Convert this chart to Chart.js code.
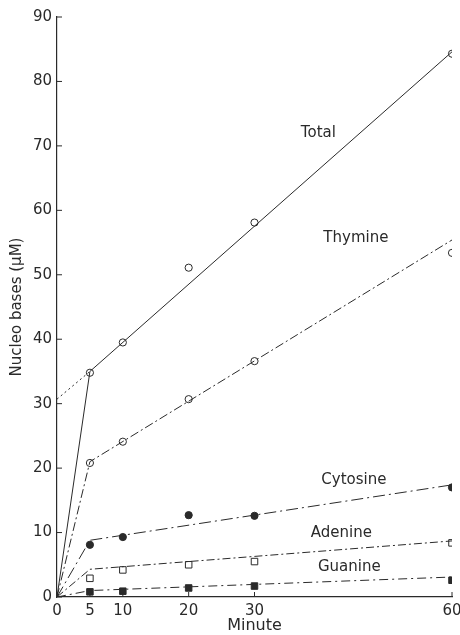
<!DOCTYPE html>
<html>
<head>
<meta charset="utf-8">
<script src="https://cdn.jsdelivr.net/npm/chart.js@4.4.1/dist/chart.umd.min.js"></script>
<style>
  html, body { margin: 0; padding: 0; background: #fff; }
  #wrap { width: 460px; height: 635px; }
</style>
</head>
<body>
<div id="wrap"><canvas id="chart"></canvas></div>
<script>
// measured points (minutes, µM)
const minutes = [5, 10, 20, 30, 60];
const total    = [34.8, 39.5, 51.1, 58.1, 84.3];
const thymine  = [20.8, 24.1, 30.7, 36.6, 53.4];
const cytosine = [8.1, 9.3, 12.7, 12.6, 17.0];
const adenine  = [2.9, 4.2, 5.0, 5.5, 8.4];
const guanine  = [0.8, 0.9, 1.4, 1.7, 2.6];

// drawn fit lines: origin -> knee at 5 min -> 60 min
const fitX = [0, 5, 60];
const totalFit    = [0, 35, 84.6];
const thymineFit  = [0, 21, 55.4];
const cytosineFit = [0, 8.8, 17.4];
const adenineFit  = [0, 4.3, 8.7];
const guanineFit  = [0, 1.0, 3.1];

// dotted extrapolation of total back to 0 min
const extrapX = [0, 5];
const totalExtrap = [30.7, 35];

const xTicks = [0, 5, 10, 20, 30, 60];
const yTicks = [0, 10, 20, 30, 40, 50, 60, 70, 80, 90];

const seriesNames = ['Total', 'Thymine', 'Cytosine', 'Adenine', 'Guanine'];
// where each series name is written (data units)
const nameSpots = [[39.7, 72], [45.4, 55.7], [45.1, 18.2], [43.2, 9.9], [44.4, 4.7]];

const ink = '#2a2a2a';
const toXY = (xs, ys) => xs.map((x, i) => ({ x: x, y: ys[i] }));

function fitLine(ys, dash) {
    return {
        data: toXY(fitX, ys),
        showLine: true,
        borderColor: ink,
        borderWidth: 1,
        borderDash: dash,
        pointRadius: 0,
        fill: false
    };
}

function marks(ys, style, filled) {
    return {
        data: toXY(minutes, ys),
        showLine: false,
        pointStyle: style,
        pointRadius: style === 'rect' ? 4.6 : 3.6,
        pointBorderWidth: 1,
        pointBorderColor: ink,
        pointBackgroundColor: filled ? ink : '#fff'
    };
}

// inward tick marks and series names
const decor = {
    id: 'decor',
    afterDraw(chart) {
        const c = chart.ctx, xs = chart.scales.x, ys = chart.scales.y;
        c.save();
        c.strokeStyle = ink;
        c.lineWidth = 1;
        c.beginPath();
        ys.ticks.forEach(t => {
            const p = ys.getPixelForValue(t.value);
            c.moveTo(xs.left, p); c.lineTo(xs.left + 5, p);
        });
        xs.ticks.forEach(t => {
            const p = xs.getPixelForValue(t.value);
            c.moveTo(p, ys.bottom); c.lineTo(p, ys.bottom - 5);
        });
        c.stroke();
        c.fillStyle = ink;
        c.font = '15px "DejaVu Sans"';
        c.textAlign = 'center';
        c.textBaseline = 'middle';
        seriesNames.forEach((n, i) => {
            c.fillText(n, xs.getPixelForValue(nameSpots[i][0]), ys.getPixelForValue(nameSpots[i][1]));
        });
        c.restore();
    }
};

new Chart(document.getElementById('chart'), {
    type: 'scatter',
    data: {
        datasets: [
            fitLine(totalFit, []),
            {
                data: toXY(extrapX, totalExtrap),
                showLine: true, borderColor: ink, borderWidth: 1,
                borderDash: [2, 3], pointRadius: 0
            },
            fitLine(thymineFit, [9, 3, 2, 3]),
            fitLine(cytosineFit, [12, 4, 2, 4]),
            fitLine(adenineFit, [8, 3, 2, 3]),
            fitLine(guanineFit, [9, 4, 2, 4]),
            marks(total, 'circle', false),
            marks(thymine, 'circle', false),
            marks(cytosine, 'circle', true),
            marks(adenine, 'rect', false),
            marks(guanine, 'rect', true)
        ]
    },
    options: {
        responsive: true,
        maintainAspectRatio: false,
        animation: false,
        layout: { padding: { top: 17, right: 2, left: 0, bottom: 0 } },
        plugins: { legend: { display: false }, tooltip: { enabled: false } },
        scales: {
            x: {
                type: 'linear', min: 0, max: 60,
                afterBuildTicks: s => { s.ticks = xTicks.map(v => ({ value: v })); },
                afterFit: s => { s.height = 38; s.paddingRight = 8; },
                grid: { display: false, drawTicks: false },
                border: { display: true, color: ink, width: 1.2 },
                ticks: { color: ink, padding: 5, font: { family: 'DejaVu Sans', size: 15 }, maxRotation: 0 },
                title: { display: true, text: 'Minute', color: ink, padding: { top: 0, bottom: 0 },
                         font: { family: 'DejaVu Sans', size: 16 } }
            },
            y: {
                type: 'linear', min: 0, max: 90,
                afterBuildTicks: s => { s.ticks = yTicks.map(v => ({ value: v })); },
                afterFit: s => { s.width = 57; },
                grid: { display: false, drawTicks: false },
                border: { display: true, color: ink, width: 1.2 },
                ticks: { color: ink, padding: 5, font: { family: 'DejaVu Sans', size: 15 } },
                title: { display: true, text: 'Nucleo bases (\u03bcM)', color: ink, padding: { top: 8, bottom: 0 },
                         font: { family: 'DejaVu Sans', size: 15 } }
            }
        }
    },
    plugins: [decor]
});
</script>
</body>
</html>
